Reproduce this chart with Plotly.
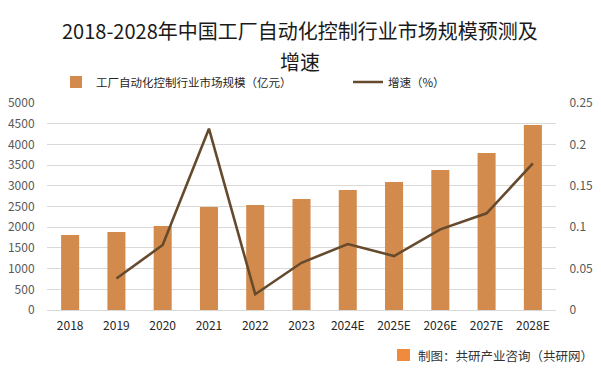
import plotly.graph_objects as go

categories = ["2018", "2019", "2020", "2021", "2022", "2023", "2024E", "2025E", "2026E", "2027E", "2028E"]
market_size = [1810, 1884, 2030, 2488, 2536, 2681, 2899, 3092, 3382, 3792, 4469]
growth = [None, 0.038, 0.0785, 0.219, 0.019, 0.057, 0.0797, 0.0652, 0.0974, 0.1168, 0.177]
bar_name = "工厂自动化控制行业市场规模（亿元）"
line_name = "增速（%）"
title_line1 = "2018-2028年中国工厂自动化控制行业市场规模预测及"
title_line2 = "增速"
source_text = "制图：共研产业咨询（共研网）"

FONT = "Noto Sans CJK SC, Microsoft YaHei, sans-serif"
BAR_COLOR = "#D38B4D"
LINE_COLOR = "#664A2E"
TICK_COLOR = "#595959"
CLEAR = "rgba(0,0,0,0)"

PL, PR, PT, PB = 47, 556, 103, 310  # plot area in pixels
PW, PH = PR - PL, PB - PT


def px(x):
    return (x - PL) / PW


def py(y):
    return (PB - y) / PH


fig = go.Figure()
fig.add_trace(go.Bar(
    x=categories, y=market_size, name=bar_name,
    marker=dict(color=BAR_COLOR, line=dict(width=0)),
    legend="legend",
))
fig.add_trace(go.Scatter(
    x=categories, y=growth, name=line_name, mode="lines",
    line=dict(color=LINE_COLOR, width=2.6),
    yaxis="y2", legend="legend2",
))

legend_font = dict(size=11.5, color="#262626", family=FONT)

fig.update_layout(
    width=601, height=373,
    margin=dict(l=PL, r=601 - PR, t=PT, b=373 - PB, autoexpand=False),
    paper_bgcolor="white", plot_bgcolor="white",
    font=dict(family=FONT, size=12, color=TICK_COLOR),
    bargap=0.61,
    xaxis=dict(
        type="category", showgrid=False, showline=True, linecolor="#d9d9d9",
        linewidth=1, ticks="outside", ticklen=5, tickcolor=CLEAR,
        tickfont=dict(size=12, color="#262626"),
    ),
    yaxis=dict(
        range=[0, 5000], dtick=500, showgrid=True, gridcolor="#d9d9d9",
        gridwidth=1, zeroline=False, ticks="outside", ticklen=9, tickcolor=CLEAR,
        tickfont=dict(size=12, color=TICK_COLOR),
    ),
    yaxis2=dict(
        range=[0, 0.25], dtick=0.05, overlaying="y", side="right",
        showgrid=False, zeroline=False, ticks="outside", ticklen=10, tickcolor=CLEAR,
        tickformat="~g", tickfont=dict(size=12, color=TICK_COLOR),
    ),
    showlegend=True,
    legend=dict(
        orientation="h", x=px(56), y=py(82), xanchor="left", yanchor="middle",
        font=legend_font, bgcolor=CLEAR,
    ),
    legend2=dict(
        orientation="h", x=px(348), y=py(82), xanchor="left", yanchor="middle",
        font=legend_font, bgcolor=CLEAR,
    ),
    annotations=[
        dict(text=title_line1, xref="paper", yref="paper", x=px(300), y=py(30),
             yanchor="middle", xanchor="center", showarrow=False,
             font=dict(size=20, color="#1a1a1a", family=FONT)),
        dict(text=title_line2, xref="paper", yref="paper", x=px(300), y=py(61),
             yanchor="middle", xanchor="center", showarrow=False,
             font=dict(size=20, color="#1a1a1a", family=FONT)),
        dict(text=source_text, xref="paper", yref="paper", x=px(595), y=py(355),
             yanchor="middle", xanchor="right", showarrow=False,
             font=dict(size=12.5, color="#333333", family=FONT)),
    ],
    shapes=[
        dict(type="rect", xref="paper", yref="paper",
             x0=px(397), x1=px(410), y0=py(361), y1=py(349),
             fillcolor="#F08A3C", line=dict(width=0)),
    ],
)

fig.write_html("out.html", config={"displayModeBar": False},
               post_script="document.body.style.margin='0';")
